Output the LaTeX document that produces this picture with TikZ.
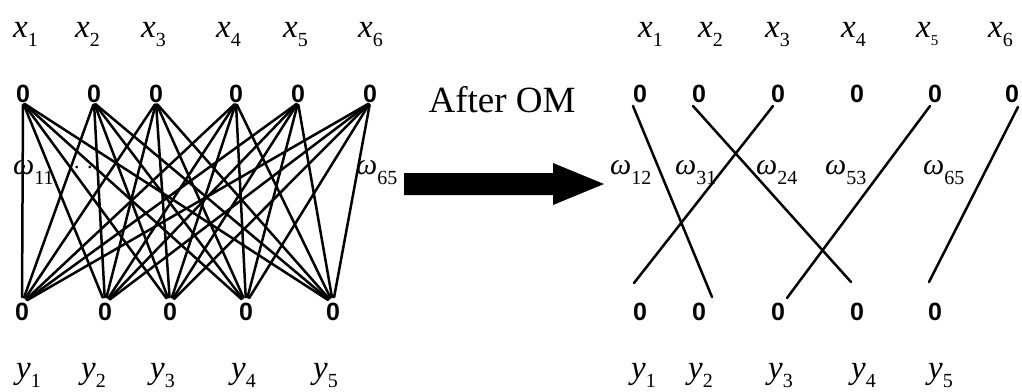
\documentclass[tikz,border=0pt]{standalone}
\usepackage{fontspec}
\setmainfont{Liberation Serif}
\newfontfamily\zerofont{Liberation Sans}
\newcommand\vlab[2]{{\fontsize{33}{33}\selectfont\itshape #1}\raisebox{-9pt}{\fontsize{20}{20}\selectfont #2}}
\newcommand\wlab[1]{{\fontsize{30}{30}\selectfont\itshape ω}\raisebox{-10pt}{\fontsize{20}{20}\selectfont #1}}
\begin{document}
\begin{tikzpicture}[x=1pt,y=-1pt,
  zero/.style={inner sep=0pt,outer sep=0pt,font=\zerofont\bfseries\fontsize{25}{25}\selectfont},
  lab/.style={inner sep=0pt,anchor=base west},
  edge/.style={line width=2.5pt,line cap=round}]
\useasboundingbox (0,0) rectangle (1022,391);
% ---------- left graph ----------
\foreach \n/\x in {1/23,2/94,3/156,4/236,5/298,6/370}{
  \node[zero] (LX\n) at (\x,94) {0};
}
\foreach \n/\x in {1/22,2/105,3/170,4/246,5/333}{
  \node[zero] (LY\n) at (\x,312) {0};
}
\foreach \n/\x in {1/13,2/75,3/141,4/216,5/283,6/358}{
  \node[lab] (LXL\n) at (\x,37) {\vlab{x}{\n}};
}
\foreach \n/\x in {1/16,2/81,3/150,4/231,5/313}{
  \node[lab] (LYL\n) at (\x,378) {\vlab{y}{\n}};
}
\foreach \i in {1,...,6}{
  \foreach \j in {1,...,5}{
    \draw[edge,shorten <=2pt,shorten >=6pt] (LX\i.south) -- (LY\j.north);
  }
}
\node[lab] (w11) at (13,174) {\wlab{11}};
\node[lab,font=\fontsize{22}{22}\selectfont] (dots) at (74,168) {. .};
\node[lab] (w65l) at (356,174) {\wlab{65}};
% ---------- arrow ----------
\node[inner sep=0pt,anchor=base,font=\fontsize{37}{37}\selectfont] (after) at (502,112) {After OM};
\fill (404,173) -- (553,173) -- (553,163) -- (604,184) -- (553,205) -- (553,195) -- (404,195) -- cycle;
% ---------- right graph ----------
\foreach \n/\x in {1/640,2/699,3/778,4/857,5/935,6/1012}{
  \node[zero] (RX\n) at (\x,94) {0};
}
\foreach \n/\x in {1/640,2/699,3/778,4/857,5/935}{
  \node[zero] (RY\n) at (\x,312) {0};
}
\foreach \n/\x in {1/638,2/698,3/765,4/841,6/988}{
  \node[lab] (RXL\n) at (\x,37) {\vlab{x}{\n}};
}
\node[lab] (RXL5) at (916,37) {{\fontsize{33}{33}\selectfont\itshape x}\raisebox{-8pt}{\fontsize{15}{15}\selectfont 5}};
\foreach \n/\x in {1/631,2/688,3/768,4/851,5/928}{
  \node[lab] (RYL\n) at (\x,378) {\vlab{y}{\n}};
}
\coordinate (a1) at (633,106); \coordinate (b1) at (712,297);
\coordinate (a2) at (773,106); \coordinate (b2) at (634,283);
\coordinate (a3) at (693,106); \coordinate (b3) at (851,282);
\coordinate (a4) at (930,106); \coordinate (b4) at (787,298);
\coordinate (a5) at (1018,107); \coordinate (b5) at (929,282);
\foreach \k in {1,...,5}{ \draw[edge] (a\k) -- (b\k); }
\node[lab] (w12) at (610,174) {\wlab{12}};
\node[lab] (w31) at (675,174) {\wlab{31}};
\node[lab] (w24) at (756,174) {\wlab{24}};
\node[lab] (w53) at (825,174) {\wlab{53}};
\node[lab] (w65r) at (923,174) {\wlab{65}};
\end{tikzpicture}
\end{document}
